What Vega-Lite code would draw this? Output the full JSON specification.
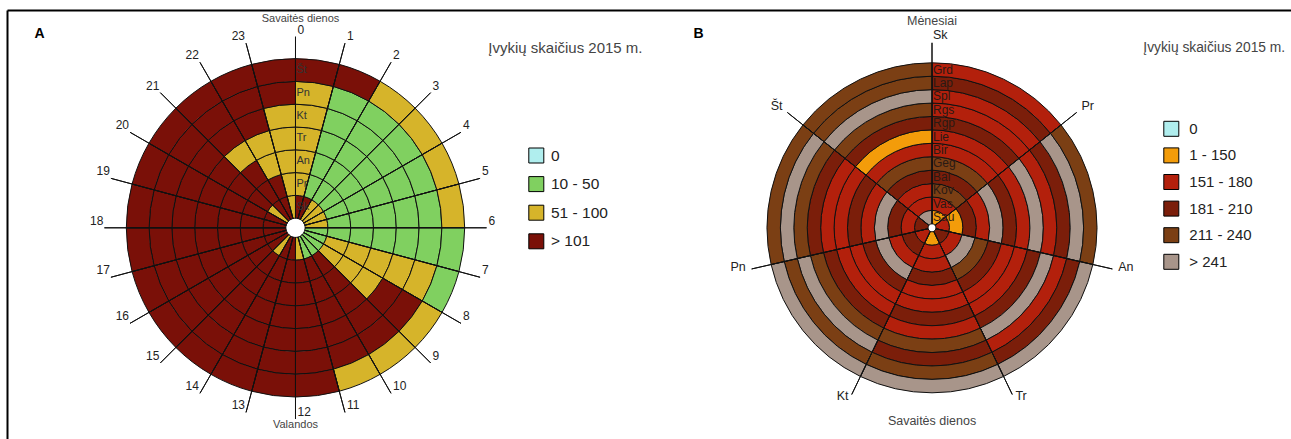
{
"$schema":"https://vega.github.io/schema/vega-lite/v6.json",
"width":1284,"height":429,
"autosize":{"type":"none"},
"padding":{"left":7,"top":10,"right":0,"bottom":0},
"background":"white",
"config":{
 "view":{"stroke":null},
 "font":"Liberation Sans",
 "legend":{"orient":"none","padding":0,"titleFont":"Liberation Sans","titleFontWeight":"normal","titleColor":"#444","titleAnchor":"start","titleBaseline":"top","labelFont":"Liberation Sans","labelColor":"#222","symbolType":"square","symbolSize":225,"symbolStrokeColor":"#000","symbolStrokeWidth":1}
},
"datasets":{
"a":[
{"h":0,"r":0,"c":"> 101"},{"h":0,"r":1,"c":"51 - 100"},{"h":0,"r":2,"c":"51 - 100"},{"h":0,"r":3,"c":"51 - 100"},{"h":0,"r":4,"c":"51 - 100"},{"h":0,"r":5,"c":"51 - 100"},{"h":0,"r":6,"c":"> 101"},
{"h":1,"r":0,"c":"> 101"},{"h":1,"r":1,"c":"10  - 50"},{"h":1,"r":2,"c":"10  - 50"},{"h":1,"r":3,"c":"10  - 50"},{"h":1,"r":4,"c":"10  - 50"},{"h":1,"r":5,"c":"10  - 50"},{"h":1,"r":6,"c":"> 101"},
{"h":2,"r":0,"c":"51 - 100"},{"h":2,"r":1,"c":"10  - 50"},{"h":2,"r":2,"c":"10  - 50"},{"h":2,"r":3,"c":"10  - 50"},{"h":2,"r":4,"c":"10  - 50"},{"h":2,"r":5,"c":"10  - 50"},{"h":2,"r":6,"c":"51 - 100"},
{"h":3,"r":0,"c":"51 - 100"},{"h":3,"r":1,"c":"10  - 50"},{"h":3,"r":2,"c":"10  - 50"},{"h":3,"r":3,"c":"10  - 50"},{"h":3,"r":4,"c":"10  - 50"},{"h":3,"r":5,"c":"10  - 50"},{"h":3,"r":6,"c":"51 - 100"},
{"h":4,"r":0,"c":"51 - 100"},{"h":4,"r":1,"c":"10  - 50"},{"h":4,"r":2,"c":"10  - 50"},{"h":4,"r":3,"c":"10  - 50"},{"h":4,"r":4,"c":"10  - 50"},{"h":4,"r":5,"c":"10  - 50"},{"h":4,"r":6,"c":"51 - 100"},
{"h":5,"r":0,"c":"51 - 100"},{"h":5,"r":1,"c":"10  - 50"},{"h":5,"r":2,"c":"10  - 50"},{"h":5,"r":3,"c":"10  - 50"},{"h":5,"r":4,"c":"10  - 50"},{"h":5,"r":5,"c":"10  - 50"},{"h":5,"r":6,"c":"51 - 100"},
{"h":6,"r":0,"c":"10  - 50"},{"h":6,"r":1,"c":"10  - 50"},{"h":6,"r":2,"c":"10  - 50"},{"h":6,"r":3,"c":"10  - 50"},{"h":6,"r":4,"c":"10  - 50"},{"h":6,"r":5,"c":"10  - 50"},{"h":6,"r":6,"c":"10  - 50"},
{"h":7,"r":0,"c":"10  - 50"},{"h":7,"r":1,"c":"51 - 100"},{"h":7,"r":2,"c":"51 - 100"},{"h":7,"r":3,"c":"51 - 100"},{"h":7,"r":4,"c":"51 - 100"},{"h":7,"r":5,"c":"51 - 100"},{"h":7,"r":6,"c":"10  - 50"},
{"h":8,"r":0,"c":"10  - 50"},{"h":8,"r":1,"c":"51 - 100"},{"h":8,"r":2,"c":"51 - 100"},{"h":8,"r":3,"c":"51 - 100"},{"h":8,"r":4,"c":"> 101"},{"h":8,"r":5,"c":"> 101"},{"h":8,"r":6,"c":"51 - 100"},
{"h":9,"r":0,"c":"10  - 50"},{"h":9,"r":1,"c":"> 101"},{"h":9,"r":2,"c":"> 101"},{"h":9,"r":3,"c":"> 101"},{"h":9,"r":4,"c":"> 101"},{"h":9,"r":5,"c":"> 101"},{"h":9,"r":6,"c":"51 - 100"},
{"h":10,"r":0,"c":"10  - 50"},{"h":10,"r":1,"c":"> 101"},{"h":10,"r":2,"c":"> 101"},{"h":10,"r":3,"c":"> 101"},{"h":10,"r":4,"c":"> 101"},{"h":10,"r":5,"c":"> 101"},{"h":10,"r":6,"c":"51 - 100"},
{"h":11,"r":0,"c":"51 - 100"},{"h":11,"r":1,"c":"> 101"},{"h":11,"r":2,"c":"> 101"},{"h":11,"r":3,"c":"> 101"},{"h":11,"r":4,"c":"> 101"},{"h":11,"r":5,"c":"> 101"},{"h":11,"r":6,"c":"> 101"},
{"h":12,"r":0,"c":"> 101"},{"h":12,"r":1,"c":"> 101"},{"h":12,"r":2,"c":"> 101"},{"h":12,"r":3,"c":"> 101"},{"h":12,"r":4,"c":"> 101"},{"h":12,"r":5,"c":"> 101"},{"h":12,"r":6,"c":"> 101"},
{"h":13,"r":0,"c":"> 101"},{"h":13,"r":1,"c":"> 101"},{"h":13,"r":2,"c":"> 101"},{"h":13,"r":3,"c":"> 101"},{"h":13,"r":4,"c":"> 101"},{"h":13,"r":5,"c":"> 101"},{"h":13,"r":6,"c":"> 101"},
{"h":14,"r":0,"c":"51 - 100"},{"h":14,"r":1,"c":"> 101"},{"h":14,"r":2,"c":"> 101"},{"h":14,"r":3,"c":"> 101"},{"h":14,"r":4,"c":"> 101"},{"h":14,"r":5,"c":"> 101"},{"h":14,"r":6,"c":"> 101"},
{"h":15,"r":0,"c":"> 101"},{"h":15,"r":1,"c":"> 101"},{"h":15,"r":2,"c":"> 101"},{"h":15,"r":3,"c":"> 101"},{"h":15,"r":4,"c":"> 101"},{"h":15,"r":5,"c":"> 101"},{"h":15,"r":6,"c":"> 101"},
{"h":16,"r":0,"c":"> 101"},{"h":16,"r":1,"c":"> 101"},{"h":16,"r":2,"c":"> 101"},{"h":16,"r":3,"c":"> 101"},{"h":16,"r":4,"c":"> 101"},{"h":16,"r":5,"c":"> 101"},{"h":16,"r":6,"c":"> 101"},
{"h":17,"r":0,"c":"> 101"},{"h":17,"r":1,"c":"> 101"},{"h":17,"r":2,"c":"> 101"},{"h":17,"r":3,"c":"> 101"},{"h":17,"r":4,"c":"> 101"},{"h":17,"r":5,"c":"> 101"},{"h":17,"r":6,"c":"> 101"},
{"h":18,"r":0,"c":"> 101"},{"h":18,"r":1,"c":"> 101"},{"h":18,"r":2,"c":"> 101"},{"h":18,"r":3,"c":"> 101"},{"h":18,"r":4,"c":"> 101"},{"h":18,"r":5,"c":"> 101"},{"h":18,"r":6,"c":"> 101"},
{"h":19,"r":0,"c":"> 101"},{"h":19,"r":1,"c":"> 101"},{"h":19,"r":2,"c":"> 101"},{"h":19,"r":3,"c":"> 101"},{"h":19,"r":4,"c":"> 101"},{"h":19,"r":5,"c":"> 101"},{"h":19,"r":6,"c":"> 101"},
{"h":20,"r":0,"c":"51 - 100"},{"h":20,"r":1,"c":"> 101"},{"h":20,"r":2,"c":"> 101"},{"h":20,"r":3,"c":"> 101"},{"h":20,"r":4,"c":"> 101"},{"h":20,"r":5,"c":"> 101"},{"h":20,"r":6,"c":"> 101"},
{"h":21,"r":0,"c":"> 101"},{"h":21,"r":1,"c":"> 101"},{"h":21,"r":2,"c":"> 101"},{"h":21,"r":3,"c":"51 - 100"},{"h":21,"r":4,"c":"> 101"},{"h":21,"r":5,"c":"> 101"},{"h":21,"r":6,"c":"> 101"},
{"h":22,"r":0,"c":"> 101"},{"h":22,"r":1,"c":"> 101"},{"h":22,"r":2,"c":"51 - 100"},{"h":22,"r":3,"c":"51 - 100"},{"h":22,"r":4,"c":"> 101"},{"h":22,"r":5,"c":"> 101"},{"h":22,"r":6,"c":"> 101"},
{"h":23,"r":0,"c":"51 - 100"},{"h":23,"r":1,"c":"51 - 100"},{"h":23,"r":2,"c":"51 - 100"},{"h":23,"r":3,"c":"51 - 100"},{"h":23,"r":4,"c":"51 - 100"},{"h":23,"r":5,"c":"> 101"},{"h":23,"r":6,"c":"> 101"}
],
"aDays":[{"r":0,"day":"Sk"},{"r":1,"day":"Pr"},{"r":2,"day":"An"},{"r":3,"day":"Tr"},{"r":4,"day":"Kt"},{"r":5,"day":"Pn"},{"r":6,"day":"Št"}],
"b":[
{"d":0,"m":0,"c":"1 - 150"},{"d":0,"m":1,"c":"151 - 180"},{"d":0,"m":2,"c":"211 - 240"},{"d":0,"m":3,"c":"181 - 210"},{"d":0,"m":4,"c":"211 - 240"},{"d":0,"m":5,"c":"151 - 180"},{"d":0,"m":6,"c":"151 - 180"},{"d":0,"m":7,"c":"181 - 210"},{"d":0,"m":8,"c":"151 - 180"},{"d":0,"m":9,"c":"151 - 180"},{"d":0,"m":10,"c":"181 - 210"},{"d":0,"m":11,"c":"151 - 180"},
{"d":1,"m":0,"c":"151 - 180"},{"d":1,"m":1,"c":"1 - 150"},{"d":1,"m":2,"c":"181 - 210"},{"d":1,"m":3,"c":"151 - 180"},{"d":1,"m":4,"c":"> 241"},{"d":1,"m":5,"c":"181 - 210"},{"d":1,"m":6,"c":"151 - 180"},{"d":1,"m":7,"c":"> 241"},{"d":1,"m":8,"c":"151 - 180"},{"d":1,"m":9,"c":"181 - 210"},{"d":1,"m":10,"c":"> 241"},{"d":1,"m":11,"c":"211 - 240"},
{"d":2,"m":0,"c":"181 - 210"},{"d":2,"m":1,"c":"151 - 180"},{"d":2,"m":2,"c":"> 241"},{"d":2,"m":3,"c":"211 - 240"},{"d":2,"m":4,"c":"181 - 210"},{"d":2,"m":5,"c":"151 - 180"},{"d":2,"m":6,"c":"151 - 180"},{"d":2,"m":7,"c":"181 - 210"},{"d":2,"m":8,"c":"> 241"},{"d":2,"m":9,"c":"151 - 180"},{"d":2,"m":10,"c":"181 - 210"},{"d":2,"m":11,"c":"> 241"},
{"d":3,"m":0,"c":"1 - 150"},{"d":3,"m":1,"c":"151 - 180"},{"d":3,"m":2,"c":"151 - 180"},{"d":3,"m":3,"c":"181 - 210"},{"d":3,"m":4,"c":"151 - 180"},{"d":3,"m":5,"c":"151 - 180"},{"d":3,"m":6,"c":"181 - 210"},{"d":3,"m":7,"c":"151 - 180"},{"d":3,"m":8,"c":"211 - 240"},{"d":3,"m":9,"c":"181 - 210"},{"d":3,"m":10,"c":"211 - 240"},{"d":3,"m":11,"c":"> 241"},
{"d":4,"m":0,"c":"151 - 180"},{"d":4,"m":1,"c":"181 - 210"},{"d":4,"m":2,"c":"151 - 180"},{"d":4,"m":3,"c":"> 241"},{"d":4,"m":4,"c":"181 - 210"},{"d":4,"m":5,"c":"151 - 180"},{"d":4,"m":6,"c":"151 - 180"},{"d":4,"m":7,"c":"181 - 210"},{"d":4,"m":8,"c":"211 - 240"},{"d":4,"m":9,"c":"> 241"},{"d":4,"m":10,"c":"211 - 240"},{"d":4,"m":11,"c":"> 241"},
{"d":5,"m":0,"c":"181 - 210"},{"d":5,"m":1,"c":"151 - 180"},{"d":5,"m":2,"c":"181 - 210"},{"d":5,"m":3,"c":"> 241"},{"d":5,"m":4,"c":"151 - 180"},{"d":5,"m":5,"c":"181 - 210"},{"d":5,"m":6,"c":"151 - 180"},{"d":5,"m":7,"c":"151 - 180"},{"d":5,"m":8,"c":"181 - 210"},{"d":5,"m":9,"c":"211 - 240"},{"d":5,"m":10,"c":"> 241"},{"d":5,"m":11,"c":"211 - 240"},
{"d":6,"m":0,"c":"> 241"},{"d":6,"m":1,"c":"151 - 180"},{"d":6,"m":2,"c":"151 - 180"},{"d":6,"m":3,"c":"181 - 210"},{"d":6,"m":4,"c":"211 - 240"},{"d":6,"m":5,"c":"151 - 180"},{"d":6,"m":6,"c":"1 - 150"},{"d":6,"m":7,"c":"181 - 210"},{"d":6,"m":8,"c":"211 - 240"},{"d":6,"m":9,"c":"> 241"},{"d":6,"m":10,"c":"211 - 240"},{"d":6,"m":11,"c":"211 - 240"}
],
"bMonths":[{"m":0,"month":"Sau"},{"m":1,"month":"Vas"},{"m":2,"month":"Kov"},{"m":3,"month":"Bal"},{"m":4,"month":"Geg"},{"m":5,"month":"Bir"},{"m":6,"month":"Lie"},{"m":7,"month":"Rgp"},{"m":8,"month":"Rgs"},{"m":9,"month":"Spl"},{"m":10,"month":"Lap"},{"m":11,"month":"Grd"}],
"bDays":[{"d":0,"day":"Sk"},{"d":1,"day":"Pr"},{"d":2,"day":"An"},{"d":3,"day":"Tr"},{"d":4,"day":"Kt"},{"d":5,"day":"Pn"},{"d":6,"day":"Št"}]
},
"resolve":{"scale":{"theta":"independent","radius":"independent","color":"independent"}},
"layer":[
{
"layer":[
{
"data":{"name":"a"},
"transform":[{"bin":{"step":1,"extent":[0,24]},"field":"h","as":["h0","h1"]},{"bin":{"step":1,"extent":[0,7]},"field":"r","as":["r0","r1"]}],
"mark":{"type":"arc","stroke":"#111","strokeWidth":1},
"encoding":{
"x":{"datum":"A","type":"nominal","scale":{"type":"point","domain":["A","B"],"padding":0.50864,"align":0.44556},"axis":{"orient":"top","title":null,"domain":true,"domainColor":"#000","domainWidth":2,"ticks":false,"tickSize":0,"grid":false,"labelAngle":0,"labelPadding":-23,"labelBaseline":"middle","labelAlign":"center","labelFontSize":14,"labelFontWeight":"bold","labelColor":"#000","labelFont":"Liberation Sans","labelOffset":{"condition":{"test":"datum.value === 'A'","value":-256.5},"value":-234}}},
"y":{"datum":"c","type":"nominal","scale":{"type":"point","domain":["c"],"align":0.5077},"axis":{"orient":"left","title":null,"domain":true,"domainColor":"#000","domainWidth":2,"ticks":false,"labels":false,"grid":false}},
"theta":{"field":"h0","type":"quantitative","stack":null,"scale":{"type":"linear","domain":[0,24],"range":[0,6.283185307179586],"zero":false,"nice":false}},
"theta2":{"field":"h1"},
"radius":{"field":"r0","type":"quantitative","scale":{"type":"linear","domain":[0,7],"range":[9.6,169.2],"zero":false,"nice":false}},
"radius2":{"field":"r1"},
"color":{"field":"c","type":"nominal","scale":{"domain":["0","10  - 50","51 - 100","> 101"],"range":["#b0eeee","#80d060","#d6b42a","#7a1008"]},
"legend":{"title":"Įvykių skaičius 2015 m.","legendX":481.3,"legendY":30.5,"titleFontSize":15,"titlePadding":92,"labelFontSize":15.5,"rowPadding":8.6,"symbolOffset":40,"labelOffset":6.7}}
}
},
{
"data":{"name":"a"},
"transform":[{"filter":"datum.r == 0"}],
"mark":{"type":"arc","stroke":"#111","strokeWidth":1,"fill":"#111"},
"encoding":{
"x":{"datum":"A","type":"nominal","scale":{"type":"point","domain":["A","B"],"padding":0.50864,"align":0.44556}},
"y":{"datum":"c","type":"nominal","scale":{"type":"point","domain":["c"],"align":0.5077}},
"theta":{"field":"h","type":"quantitative","stack":null,"scale":{"type":"linear","domain":[0,24],"range":[0,6.283185307179586],"zero":false,"nice":false}},
"theta2":{"field":"h"},
"radius":{"datum":0,"type":"quantitative","scale":{"type":"linear","domain":[0,7],"range":[9.6,169.2],"zero":false,"nice":false}},
"radius2":{"datum":7.96}
}
},
{
"data":{"name":"a"},
"transform":[{"filter":"datum.r == 0 && datum.h <= 12"}],
"mark":{"type":"text","align":"left","baseline":"bottom","dx":2,"fontSize":12,"color":"#222","font":"Liberation Sans"},
"encoding":{
"x":{"datum":"A","type":"nominal","scale":{"type":"point","domain":["A","B"],"padding":0.50864,"align":0.44556}},
"y":{"datum":"c","type":"nominal","scale":{"type":"point","domain":["c"],"align":0.5077}},
"theta":{"field":"h","type":"quantitative","stack":null,"scale":{"type":"linear","domain":[0,24],"range":[0,6.283185307179586],"zero":false,"nice":false}},
"radius":{"datum":7.96,"type":"quantitative","scale":{"type":"linear","domain":[0,7],"range":[9.6,169.2],"zero":false,"nice":false}},
"text":{"field":"h","type":"nominal"}
}
},
{
"data":{"name":"a"},
"transform":[{"filter":"datum.r == 0 && datum.h >= 13"}],
"mark":{"type":"text","align":"right","baseline":"bottom","dx":-1,"fontSize":12,"color":"#222","font":"Liberation Sans"},
"encoding":{
"x":{"datum":"A","type":"nominal","scale":{"type":"point","domain":["A","B"],"padding":0.50864,"align":0.44556}},
"y":{"datum":"c","type":"nominal","scale":{"type":"point","domain":["c"],"align":0.5077}},
"theta":{"field":"h","type":"quantitative","stack":null,"scale":{"type":"linear","domain":[0,24],"range":[0,6.283185307179586],"zero":false,"nice":false}},
"radius":{"datum":7.96,"type":"quantitative","scale":{"type":"linear","domain":[0,7],"range":[9.6,169.2],"zero":false,"nice":false}},
"text":{"field":"h","type":"nominal"}
}
},
{
"data":{"name":"aDays"},
"transform":[{"bin":{"step":1,"extent":[0,7]},"field":"r","as":["r0","r1"]}],
"mark":{"type":"text","align":"left","baseline":"middle","dx":1,"dy":11.4,"fontSize":11,"color":"#333","font":"Liberation Sans"},
"encoding":{
"x":{"datum":"A","type":"nominal","scale":{"type":"point","domain":["A","B"],"padding":0.50864,"align":0.44556}},
"y":{"datum":"c","type":"nominal","scale":{"type":"point","domain":["c"],"align":0.5077}},
"theta":{"datum":0,"type":"quantitative","stack":null,"scale":{"type":"linear","domain":[0,24],"range":[0,6.283185307179586],"zero":false,"nice":false}},
"radius":{"field":"r1","type":"quantitative","scale":{"type":"linear","domain":[0,7],"range":[9.6,169.2],"zero":false,"nice":false}},
"text":{"field":"day","type":"nominal"}
}
},
{
"data":{"values":[{"t":"Savaitės dienos"}]},
"mark":{"type":"text","align":"center","baseline":"middle","dx":5,"fontSize":11,"color":"#444","font":"Liberation Sans"},
"encoding":{
"x":{"datum":"A","type":"nominal","scale":{"type":"point","domain":["A","B"],"padding":0.50864,"align":0.44556}},
"y":{"datum":"c","type":"nominal","scale":{"type":"point","domain":["c"],"align":0.5077}},
"theta":{"datum":0,"type":"quantitative","stack":null,"scale":{"type":"linear","domain":[0,24],"range":[0,6.283185307179586],"zero":false,"nice":false}},
"radius":{"datum":8.746,"type":"quantitative","scale":{"type":"linear","domain":[0,7],"range":[9.6,169.2],"zero":false,"nice":false}},
"text":{"field":"t","type":"nominal"}
}
},
{
"data":{"values":[{"t":"Valandos"}]},
"mark":{"type":"text","align":"center","baseline":"middle","fontSize":11,"color":"#444","font":"Liberation Sans"},
"encoding":{
"x":{"datum":"A","type":"nominal","scale":{"type":"point","domain":["A","B"],"padding":0.50864,"align":0.44556}},
"y":{"datum":"c","type":"nominal","scale":{"type":"point","domain":["c"],"align":0.5077}},
"theta":{"datum":12,"type":"quantitative","stack":null,"scale":{"type":"linear","domain":[0,24],"range":[0,6.283185307179586],"zero":false,"nice":false}},
"radius":{"datum":8.22,"type":"quantitative","scale":{"type":"linear","domain":[0,7],"range":[9.6,169.2],"zero":false,"nice":false}},
"text":{"field":"t","type":"nominal"}
}
}
]
},
{
"layer":[
{
"data":{"name":"b"},
"transform":[{"bin":{"step":1,"extent":[0,7]},"field":"d","as":["d0","d1"]},{"bin":{"step":1,"extent":[0,12]},"field":"m","as":["m0","m1"]}],
"mark":{"type":"arc","stroke":"#111","strokeWidth":1},
"encoding":{
"x":{"datum":"B","type":"nominal","scale":{"type":"point","domain":["A","B"],"padding":0.50864,"align":0.44556}},
"y":{"datum":"c","type":"nominal","scale":{"type":"point","domain":["c"],"align":0.5077}},
"theta":{"field":"d0","type":"quantitative","stack":null,"scale":{"type":"linear","domain":[0,7],"range":[0,6.283185307179586],"zero":false,"nice":false}},
"theta2":{"field":"d1"},
"radius":{"field":"m0","type":"quantitative","scale":{"type":"linear","domain":[0,12],"range":[4,165],"zero":false,"nice":false}},
"radius2":{"field":"m1"},
"color":{"field":"c","type":"nominal","scale":{"domain":["0","1 - 150","151 - 180","181 - 210","211 - 240","> 241"],"range":["#b0eeee","#f39c0a","#b3200c","#7b1e0a","#7b3f14","#a8958a"]},
"legend":{"title":"Įvykių skaičius 2015 m.","legendX":1136.3,"legendY":31,"titleFontSize":13.8,"titlePadding":66,"labelFontSize":15,"rowPadding":6.6,"symbolOffset":20,"labelOffset":10}}
}
},
{
"data":{"name":"bDays"},
"mark":{"type":"arc","stroke":"#111","strokeWidth":1,"fill":"#111"},
"encoding":{
"x":{"datum":"B","type":"nominal","scale":{"type":"point","domain":["A","B"],"padding":0.50864,"align":0.44556}},
"y":{"datum":"c","type":"nominal","scale":{"type":"point","domain":["c"],"align":0.5077}},
"theta":{"field":"d","type":"quantitative","stack":null,"scale":{"type":"linear","domain":[0,7],"range":[0,6.283185307179586],"zero":false,"nice":false}},
"theta2":{"field":"d"},
"radius":{"datum":0,"type":"quantitative","scale":{"type":"linear","domain":[0,12],"range":[4,165],"zero":false,"nice":false}},
"radius2":{"datum":13.49}
}
},
{
"data":{"name":"bDays"},
"transform":[{"filter":"datum.d <= 3"}],
"mark":{"type":"text","align":"left","baseline":"middle","dx":1,"dy":-3,"fontSize":12.5,"color":"#222","font":"Liberation Sans"},
"encoding":{
"x":{"datum":"B","type":"nominal","scale":{"type":"point","domain":["A","B"],"padding":0.50864,"align":0.44556}},
"y":{"datum":"c","type":"nominal","scale":{"type":"point","domain":["c"],"align":0.5077}},
"theta":{"field":"d","type":"quantitative","stack":null,"scale":{"type":"linear","domain":[0,7],"range":[0,6.283185307179586],"zero":false,"nice":false}},
"radius":{"datum":13.86,"type":"quantitative","scale":{"type":"linear","domain":[0,12],"range":[4,165],"zero":false,"nice":false}},
"text":{"field":"day","type":"nominal"}
}
},
{
"data":{"name":"bDays"},
"transform":[{"filter":"datum.d >= 4"}],
"mark":{"type":"text","align":"right","baseline":"middle","dx":-1,"dy":-3,"fontSize":12.5,"color":"#222","font":"Liberation Sans"},
"encoding":{
"x":{"datum":"B","type":"nominal","scale":{"type":"point","domain":["A","B"],"padding":0.50864,"align":0.44556}},
"y":{"datum":"c","type":"nominal","scale":{"type":"point","domain":["c"],"align":0.5077}},
"theta":{"field":"d","type":"quantitative","stack":null,"scale":{"type":"linear","domain":[0,7],"range":[0,6.283185307179586],"zero":false,"nice":false}},
"radius":{"datum":13.86,"type":"quantitative","scale":{"type":"linear","domain":[0,12],"range":[4,165],"zero":false,"nice":false}},
"text":{"field":"day","type":"nominal"}
}
},
{
"data":{"name":"bMonths"},
"transform":[{"bin":{"step":1,"extent":[0,12]},"field":"m","as":["m0","m1"]}],
"mark":{"type":"text","align":"left","baseline":"middle","dx":1,"dy":6.7,"fontSize":12,"color":"#2a1a14","font":"Liberation Sans"},
"encoding":{
"x":{"datum":"B","type":"nominal","scale":{"type":"point","domain":["A","B"],"padding":0.50864,"align":0.44556}},
"y":{"datum":"c","type":"nominal","scale":{"type":"point","domain":["c"],"align":0.5077}},
"theta":{"datum":0,"type":"quantitative","stack":null,"scale":{"type":"linear","domain":[0,7],"range":[0,6.283185307179586],"zero":false,"nice":false}},
"radius":{"field":"m1","type":"quantitative","scale":{"type":"linear","domain":[0,12],"range":[4,165],"zero":false,"nice":false}},
"text":{"field":"month","type":"nominal"}
}
},
{
"data":{"values":[{"t":"Mėnesiai"}]},
"mark":{"type":"text","align":"center","baseline":"middle","fontSize":12.5,"color":"#444","font":"Liberation Sans"},
"encoding":{
"x":{"datum":"B","type":"nominal","scale":{"type":"point","domain":["A","B"],"padding":0.50864,"align":0.44556}},
"y":{"datum":"c","type":"nominal","scale":{"type":"point","domain":["c"],"align":0.5077}},
"theta":{"datum":0,"type":"quantitative","stack":null,"scale":{"type":"linear","domain":[0,7],"range":[0,6.283185307179586],"zero":false,"nice":false}},
"radius":{"datum":15.1,"type":"quantitative","scale":{"type":"linear","domain":[0,12],"range":[4,165],"zero":false,"nice":false}},
"text":{"field":"t","type":"nominal"}
}
},
{
"data":{"values":[{"t":"Savaitės dienos"}]},
"mark":{"type":"text","align":"center","baseline":"middle","fontSize":12.5,"color":"#444","font":"Liberation Sans"},
"encoding":{
"x":{"datum":"B","type":"nominal","scale":{"type":"point","domain":["A","B"],"padding":0.50864,"align":0.44556}},
"y":{"datum":"c","type":"nominal","scale":{"type":"point","domain":["c"],"align":0.5077}},
"theta":{"datum":3.5,"type":"quantitative","stack":null,"scale":{"type":"linear","domain":[0,7],"range":[0,6.283185307179586],"zero":false,"nice":false}},
"radius":{"datum":14.12,"type":"quantitative","scale":{"type":"linear","domain":[0,12],"range":[4,165],"zero":false,"nice":false}},
"text":{"field":"t","type":"nominal"}
}
}
]
}
]
}
